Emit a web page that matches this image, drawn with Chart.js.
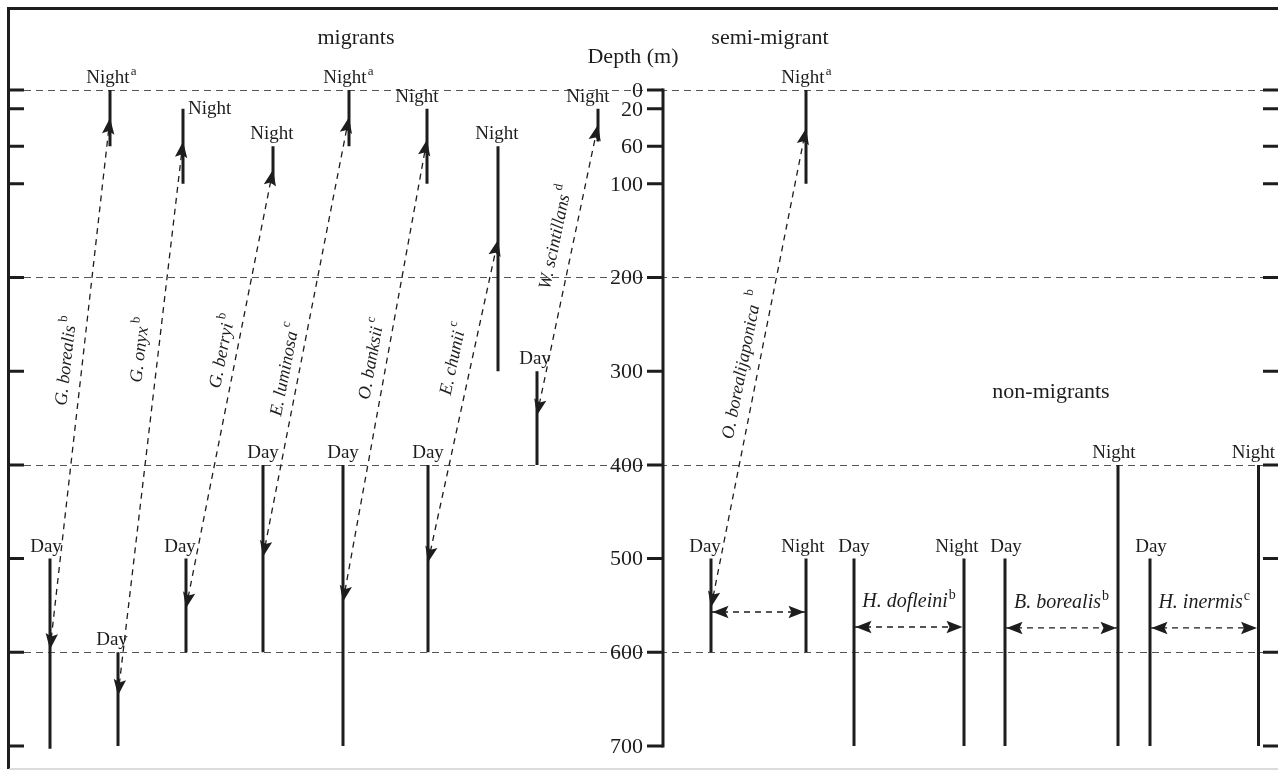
<!DOCTYPE html>
<html>
<head>
<meta charset="utf-8">
<script src="https://cdn.jsdelivr.net/npm/chart.js@4.4.0/dist/chart.umd.min.js"></script>
<style>
    html, body { margin: 0; padding: 0; background: #fff; }
</style>
</head>
<body>
<canvas id="depth-chart" width="1278" height="772"></canvas>
<script>
/// -------------- DATA --------------- ///

// depth ticks (m) and the dashed guide depths
const depthTicks = [0, 20, 60, 100, 200, 300, 400, 500, 600, 700];
const guideDepths = [0, 200, 400, 600];

const species = ["G. borealis", "G. onyx", "G. berryi", "E. luminosa", "O. banksii", "E. chunii",
    "W. scintillans", "O. borealijaponica", "H. dofleini", "B. borealis", "H. inermis"];
const speciesNote = ["b", "b", "b", "c", "c", "c", "d", "b", "b", "b", "c"];
const nightNote = ["a", "", "", "a", "", "", "", "a", "", "", ""];

// lane of the day / night column for each species (lane units)
const dayLane = [5.0, 11.8, 18.6, 26.3, 34.3, 42.8, 53.7, 71.1, 85.4, 100.5, 115.0];
const nightLane = [11.0, 18.3, 27.3, 34.9, 42.7, 49.8, 59.8, 80.6, 96.4, 111.8, 125.85];

// depth ranges (m)
const dayRange = [[500, 703], [600, 700], [500, 600], [400, 600], [400, 700], [400, 600],
    [300, 400], [500, 600], [500, 700], [500, 700], [500, 700]];
const nightRanges = [[[0, 60]], [[20, 100]], [[60, 100]], [[0, 60]], [[20, 100]], [[60, 300]],
    [[20, 55]], [[0, 100], [500, 600]], [[500, 700]], [[400, 700]], [[400, 700]]];

// migration arrows (first 8 species): depth where they meet night / day line
const nightArrowDepth = [30, 55, 85, 29, 53, 160, 37, 41];
const dayArrowDepth = [597, 646, 553, 498, 546, 504, 347, 552];

// day <-> night arrows for semi / non-migrants
const flatArrowDepth = [null, null, null, null, null, null, null, 557, 573, 574, 574];

/// -------------- LAYOUT --------------- ///

const FONT = '"Liberation Serif", "Times New Roman", serif';
const ink = "#1d1d1d";

const axisLane = 66.3;
const leftLane = 0.8;
const rightTickLane = 126.3;

const titles = [
    { text: "migrants", lane: 35.6, depth: -55 },
    { text: "Depth (m)", lane: 63.3, depth: -35 },
    { text: "semi-migrant", lane: 77.0, depth: -55 },
    { text: "non-migrants", lane: 105.1, depth: 322 }
];

// label nudges in px: [dx, baseline offset from segment top, align]
const dayNudge = [-4, -6, -6, 0, 0, 0, -2, -6, 0, 1, 1];
const nightNudge = [-2, 5, -1, -4, -10, -1, -10, -3, -7, -4, -5];
// where along the migration arrow the species name sits, and how far left of it
const nameAt = [0.46, 0.38, 0.42, 0.58, 0.48, 0.38, 0.40, 0.50];
const nameOffset = [16, 18, 14, 14, 15, 18, 18, 16];

/// -------------- BUILD --------------- ///

const segments = [];
species.forEach((name, i) => {
    segments.push({ lane: dayLane[i], from: dayRange[i][0], to: dayRange[i][1],
        text: "Day", sup: "", dx: dayNudge[i], dy: -7, align: "center" });
    nightRanges[i].forEach((r, k) => {
        const onyx = i === 1;
        segments.push({ lane: nightLane[i], from: r[0], to: r[1], text: "Night",
            sup: k === 0 ? nightNote[i] : "",
            dx: k === 0 ? nightNudge[i] : -3,
            dy: onyx ? 5 : -7, align: onyx ? "left" : "center" });
    });
});

const datasets = [];

segments.forEach(s => {
    datasets.push({
        data: [{ x: s.lane, y: s.from }, { x: s.lane, y: s.to }],
        showLine: true, borderColor: ink, borderWidth: 3, borderCapStyle: "butt", pointRadius: 0
    });
});

nightArrowDepth.forEach((d, i) => {
    datasets.push({
        data: [{ x: dayLane[i], y: dayArrowDepth[i] }, { x: nightLane[i], y: d }],
        showLine: true, borderColor: ink, borderWidth: 1.3, borderDash: [6, 5], pointRadius: 0
    });
});

flatArrowDepth.forEach((d, i) => {
    if (d === null) return;
    datasets.push({
        data: [{ x: dayLane[i], y: d }, { x: nightLane[i], y: d }],
        showLine: true, borderColor: ink, borderWidth: 1.3, borderDash: [6, 5], pointRadius: 0
    });
});

/// -------------- DRAW HELPERS --------------- ///

function arrowHead(ctx, tx, ty, fx, fy) {
    const a = Math.atan2(ty - fy, tx - fx);
    const len = 16, half = 6.2, notch = 3;
    const bx = tx - len * Math.cos(a), by = ty - len * Math.sin(a);
    const nx = tx - (len - notch) * Math.cos(a), ny = ty - (len - notch) * Math.sin(a);
    ctx.beginPath();
    ctx.moveTo(tx, ty);
    ctx.lineTo(bx + half * Math.sin(a), by - half * Math.cos(a));
    ctx.lineTo(nx, ny);
    ctx.lineTo(bx - half * Math.sin(a), by + half * Math.cos(a));
    ctx.closePath();
    ctx.fill();
}

// text with an optional upright superscript; x anchors either the main text or the whole label
function label(ctx, text, sup, x, y, opts) {
    const size = opts.size || 19;
    const italic = opts.italic ? "italic " : "";
    const gap = opts.gap || 1;
    ctx.font = `${italic}${size}px ${FONT}`;
    const w = ctx.measureText(text).width;
    ctx.font = `${Math.round(size * 0.7)}px ${FONT}`;
    const ws = sup ? ctx.measureText(sup).width + gap : 0;
    let x0;
    if (opts.align === "left") x0 = x;
    else if (opts.whole) x0 = x - (w + ws) / 2;
    else x0 = x - w / 2;
    ctx.textAlign = "left";
    ctx.textBaseline = opts.baseline || "alphabetic";
    ctx.font = `${italic}${size}px ${FONT}`;
    ctx.fillText(text, x0, y);
    if (sup) {
        ctx.font = `${Math.round(size * 0.7)}px ${FONT}`;
        ctx.fillText(sup, x0 + w + gap, y - size * 0.42);
    }
}

const sketchPlugin = {
    id: "depthSketch",
    beforeDatasetsDraw(chart) {
        const { ctx, scales: { x, y } } = chart;
        ctx.save();
        ctx.strokeStyle = "#555";
        ctx.lineWidth = 1.1;
        ctx.setLineDash([7, 5]);
        const x0 = x.getPixelForValue(leftLane) + 16;
        const x1 = x.getPixelForValue(rightTickLane);
        guideDepths.forEach(d => {
            const py = Math.round(y.getPixelForValue(d)) + 0.5;
            ctx.beginPath();
            ctx.moveTo(x0, py);
            ctx.lineTo(x1, py);
            ctx.stroke();
        });
        ctx.restore();
    },
    afterDatasetsDraw(chart) {
        const { ctx, chartArea, scales: { x, y } } = chart;
        ctx.save();
        ctx.fillStyle = ink;
        ctx.strokeStyle = ink;

        // frame
        ctx.lineWidth = 3;
        ctx.beginPath();
        ctx.moveTo(chartArea.right, 8.5);
        ctx.lineTo(8.5, 8.5);
        ctx.lineTo(8.5, chartArea.bottom - 3);
        ctx.stroke();
        ctx.strokeStyle = "#cfcfcf";
        ctx.lineWidth = 1.5;
        ctx.beginPath();
        ctx.moveTo(9, chartArea.bottom - 3);
        ctx.lineTo(chartArea.right, chartArea.bottom - 3);
        ctx.stroke();

        // axes and ticks
        ctx.strokeStyle = ink;
        ctx.lineWidth = 3;
        const ax = x.getPixelForValue(axisLane);
        const lx = x.getPixelForValue(leftLane) + 1;
        const rx = x.getPixelForValue(rightTickLane);
        ctx.beginPath();
        ctx.moveTo(ax, y.getPixelForValue(0) - 1.5);
        ctx.lineTo(ax, y.getPixelForValue(700) + 1.5);
        ctx.stroke();
        ctx.font = `22px ${FONT}`;
        ctx.textAlign = "right";
        ctx.textBaseline = "middle";
        depthTicks.forEach(d => {
            const py = y.getPixelForValue(d);
            ctx.beginPath();
            ctx.moveTo(ax - 16, py); ctx.lineTo(ax, py);
            ctx.moveTo(lx, py); ctx.lineTo(lx + 15, py);
            ctx.moveTo(rx, py); ctx.lineTo(chartArea.right, py);
            ctx.stroke();
            ctx.fillText(String(d), ax - 20, py + 1);
        });

        // arrow heads on migration arrows
        nightArrowDepth.forEach((d, i) => {
            const nx = x.getPixelForValue(nightLane[i]), ny = y.getPixelForValue(d);
            const dx = x.getPixelForValue(dayLane[i]), dy = y.getPixelForValue(dayArrowDepth[i]);
            arrowHead(ctx, nx, ny, dx, dy);
            arrowHead(ctx, dx, dy, nx, ny);
        });
        flatArrowDepth.forEach((d, i) => {
            if (d === null) return;
            const py = y.getPixelForValue(d);
            const dx = x.getPixelForValue(dayLane[i]) + 1.5, nx = x.getPixelForValue(nightLane[i]) - 1.5;
            arrowHead(ctx, dx, py, nx, py);
            arrowHead(ctx, nx, py, dx, py);
        });

        // Day / Night labels
        segments.forEach(s => {
            label(ctx, s.text, s.sup, x.getPixelForValue(s.lane) + s.dx,
                y.getPixelForValue(s.from) + s.dy, { align: s.align, size: 19 });
        });

        // titles
        ctx.font = `22px ${FONT}`;
        ctx.textAlign = "center";
        ctx.textBaseline = "middle";
        titles.forEach(t => ctx.fillText(t.text, x.getPixelForValue(t.lane), y.getPixelForValue(t.depth)));

        // species names along migration arrows
        nightArrowDepth.forEach((d, i) => {
            const nx = x.getPixelForValue(nightLane[i]), ny = y.getPixelForValue(d);
            const dx = x.getPixelForValue(dayLane[i]), dy = y.getPixelForValue(dayArrowDepth[i]);
            const t = nameAt[i];
            const px = nx + (dx - nx) * t, py = ny + (dy - ny) * t;
            const ang = Math.atan2(ny - dy, nx - dx);
            ctx.save();
            ctx.translate(px, py);
            ctx.rotate(ang);
            label(ctx, species[i], speciesNote[i], 0, -nameOffset[i], {
                size: 18, italic: true, whole: true, baseline: "middle", gap: i === 7 ? 8 : 3
            });
            ctx.restore();
        });

        // species names above the flat arrows
        flatArrowDepth.forEach((d, i) => {
            if (d === null || i === 7) return;
            const mid = (x.getPixelForValue(dayLane[i]) + x.getPixelForValue(nightLane[i])) / 2;
            label(ctx, species[i], speciesNote[i], mid, y.getPixelForValue(d) - 20,
                { size: 20, italic: true, whole: true, gap: 1 });
        });

        ctx.restore();
    }
};

new Chart(document.getElementById("depth-chart"), {
    type: "scatter",
    data: { datasets },
    options: {
        responsive: false,
        animation: false,
        events: [],
        layout: { padding: 0 },
        plugins: {
            legend: { display: false },
            tooltip: { enabled: false }
        },
        scales: {
            x: { type: "linear", min: 0, max: 127.8, display: false },
            y: { type: "linear", reverse: true, min: -96.04, max: 727.7, display: false }
        }
    },
    plugins: [sketchPlugin]
});
</script>
</body>
</html>
